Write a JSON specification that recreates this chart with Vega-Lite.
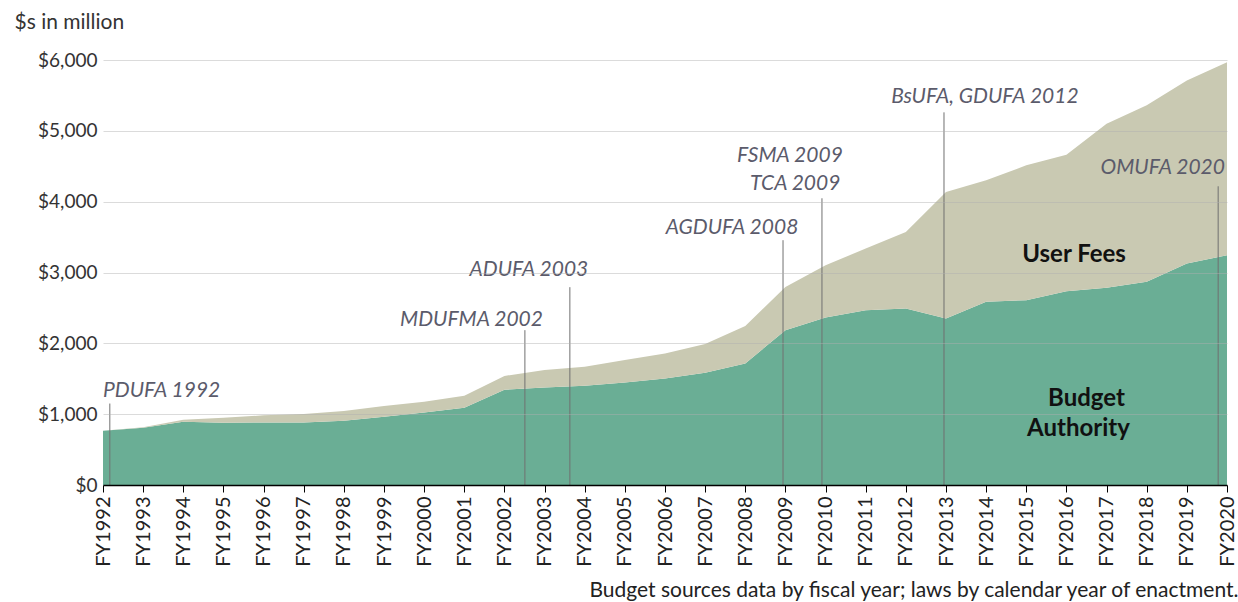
{
  "$schema": "https://vega.github.io/schema/vega-lite/v6.json",
  "width": 1124,
  "height": 425,
  "autosize": {"type": "none"},
  "padding": {"left": 103, "top": 60, "right": 11, "bottom": 117},
  "background": "white",
  "config": {
    "view": {"stroke": null},
    "font": "Lato",
    "axis": {"labelFont": "Lato", "titleFont": "Lato"}
  },
  "datasets": {
    "funding": [
      {"year": 1992, "series": "Budget Authority", "value": 766}, {"year": 1992, "series": "User Fees", "value": 0},
      {"year": 1993, "series": "Budget Authority", "value": 808}, {"year": 1993, "series": "User Fees", "value": 7},
      {"year": 1994, "series": "Budget Authority", "value": 893}, {"year": 1994, "series": "User Fees", "value": 28},
      {"year": 1995, "series": "Budget Authority", "value": 879}, {"year": 1995, "series": "User Fees", "value": 70},
      {"year": 1996, "series": "Budget Authority", "value": 884}, {"year": 1996, "series": "User Fees", "value": 99},
      {"year": 1997, "series": "Budget Authority", "value": 884}, {"year": 1997, "series": "User Fees", "value": 117},
      {"year": 1998, "series": "Budget Authority", "value": 907}, {"year": 1998, "series": "User Fees", "value": 137},
      {"year": 1999, "series": "Budget Authority", "value": 964}, {"year": 1999, "series": "User Fees", "value": 150},
      {"year": 2000, "series": "Budget Authority", "value": 1025}, {"year": 2000, "series": "User Fees", "value": 150},
      {"year": 2001, "series": "Budget Authority", "value": 1091}, {"year": 2001, "series": "User Fees", "value": 169},
      {"year": 2002, "series": "Budget Authority", "value": 1345}, {"year": 2002, "series": "User Fees", "value": 195},
      {"year": 2003, "series": "Budget Authority", "value": 1378}, {"year": 2003, "series": "User Fees", "value": 244},
      {"year": 2004, "series": "Budget Authority", "value": 1401}, {"year": 2004, "series": "User Fees", "value": 268},
      {"year": 2005, "series": "Budget Authority", "value": 1448}, {"year": 2005, "series": "User Fees", "value": 315},
      {"year": 2006, "series": "Budget Authority", "value": 1504}, {"year": 2006, "series": "User Fees", "value": 353},
      {"year": 2007, "series": "Budget Authority", "value": 1584}, {"year": 2007, "series": "User Fees", "value": 405},
      {"year": 2008, "series": "Budget Authority", "value": 1716}, {"year": 2008, "series": "User Fees", "value": 527},
      {"year": 2009, "series": "Budget Authority", "value": 2186}, {"year": 2009, "series": "User Fees", "value": 611},
      {"year": 2010, "series": "Budget Authority", "value": 2365}, {"year": 2010, "series": "User Fees", "value": 738},
      {"year": 2011, "series": "Budget Authority", "value": 2468}, {"year": 2011, "series": "User Fees", "value": 870},
      {"year": 2012, "series": "Budget Authority", "value": 2492}, {"year": 2012, "series": "User Fees", "value": 1081},
      {"year": 2013, "series": "Budget Authority", "value": 2351}, {"year": 2013, "series": "User Fees", "value": 1786},
      {"year": 2014, "series": "Budget Authority", "value": 2586}, {"year": 2014, "series": "User Fees", "value": 1716},
      {"year": 2015, "series": "Budget Authority", "value": 2609}, {"year": 2015, "series": "User Fees", "value": 1904},
      {"year": 2016, "series": "Budget Authority", "value": 2736}, {"year": 2016, "series": "User Fees", "value": 1928},
      {"year": 2017, "series": "Budget Authority", "value": 2783}, {"year": 2017, "series": "User Fees", "value": 2318},
      {"year": 2018, "series": "Budget Authority", "value": 2868}, {"year": 2018, "series": "User Fees", "value": 2492},
      {"year": 2019, "series": "Budget Authority", "value": 3127}, {"year": 2019, "series": "User Fees", "value": 2585},
      {"year": 2020, "series": "Budget Authority", "value": 3244}, {"year": 2020, "series": "User Fees", "value": 2726}
    ],
    "laws": [
      {"pos": 1992.17, "base": 0, "top": 1150},
      {"pos": 2002.51, "base": 0, "top": 2186},
      {"pos": 2003.63, "base": 0, "top": 2793},
      {"pos": 2008.94, "base": 0, "top": 3456},
      {"pos": 2009.91, "base": 0, "top": 4048},
      {"pos": 2012.95, "base": 0, "top": 5261},
      {"pos": 2019.78, "base": 0, "top": 4217}
    ],
    "lawLabels": [
      {"label": "PDUFA 1992", "lx": 1992.0, "ly": 1241, "al": "left"},
      {"label": "MDUFMA 2002", "lx": 2001.18, "ly": 2243, "al": "center"},
      {"label": "ADUFA 2003", "lx": 2002.61, "ly": 2948, "al": "center"},
      {"label": "AGDUFA 2008", "lx": 2007.67, "ly": 3540, "al": "center"},
      {"label": "FSMA 2009", "lx": 2010.43, "ly": 4556, "al": "right"},
      {"label": "TCA 2009", "lx": 2010.37, "ly": 4161, "al": "right"},
      {"label": "BsUFA, GDUFA 2012", "lx": 2013.97, "ly": 5388, "al": "center"},
      {"label": "OMUFA 2020", "lx": 2019.95, "ly": 4386, "al": "right"}
    ],
    "seriesLabels": [
      {"label": "User Fees", "lx": 2016.19, "ly": 3145},
      {"label": "Budget", "lx": 2016.5, "ly": 1114},
      {"label": "Authority", "lx": 2016.3, "ly": 691}
    ]
  },
  "layer": [
    {
      "data": {"name": "funding"},
      "mark": {"type": "area", "opacity": 1},
      "encoding": {
        "x": {
          "field": "year", "type": "quantitative",
          "scale": {"domain": [1992, 2020], "nice": false, "zero": false},
          "axis": {
            "values": [1992,1993,1994,1995,1996,1997,1998,1999,2000,2001,2002,2003,2004,2005,2006,2007,2008,2009,2010,2011,2012,2013,2014,2015,2016,2017,2018,2019,2020],
            "labelExpr": "'FY' + datum.value",
            "labelAngle": 270, "labelAlign": "right", "labelBaseline": "middle",
            "labelFontSize": 20, "labelColor": "#222", "labelPadding": 4,
            "tickSize": 7, "tickColor": "#000", "domainColor": "#000", "domainWidth": 1.5,
            "grid": false, "zindex": 1,
            "title": "Budget sources data by fiscal year; laws by calendar year of enactment.",
            "titleFontSize": 21, "titleFontWeight": "normal", "titleColor": "#222",
            "titleAlign": "right", "titleAnchor": "end", "titleX": 1135, "titleY": 111, "titleBaseline": "alphabetic"
          }
        },
        "y": {
          "field": "value", "type": "quantitative", "stack": "zero",
          "scale": {"domain": [0, 6000], "nice": false},
          "axis": {
            "values": [0, 1000, 2000, 3000, 4000, 5000, 6000],
            "format": "$,.0f",
            "labelFontSize": 19, "labelColor": "#333", "labelPadding": 6,
            "ticks": false, "domain": false,
            "grid": true, "gridColor": "#b0b0b0", "gridOpacity": 0.45, "gridWidth": 1,
            "zindex": 1,
            "title": "$s in million", "titleAngle": 0, "titleAlign": "left",
            "titleX": -89, "titleY": -32, "titleBaseline": "alphabetic",
            "titleFontSize": 21, "titleFontWeight": "normal", "titleColor": "#333"
          }
        },
        "color": {
          "field": "series", "type": "nominal",
          "scale": {"domain": ["Budget Authority", "User Fees"], "range": ["#6aae95", "#c9c9b2"]},
          "legend": null
        },
        "order": {"field": "series", "type": "nominal", "sort": "ascending"}
      }
    },
    {
      "data": {"name": "laws"},
      "mark": {"type": "rule", "color": "#707070", "strokeWidth": 1},
      "encoding": {
        "x": {"field": "pos", "type": "quantitative"},
        "y": {"field": "base", "type": "quantitative"},
        "y2": {"field": "top"}
      }
    },
    {
      "data": {"name": "lawLabels"},
      "transform": [{"filter": "datum.al === 'left'"}],
      "mark": {"type": "text", "fontStyle": "italic", "fontSize": 21, "color": "#5b5b6b", "baseline": "alphabetic", "align": "left"},
      "encoding": {
        "x": {"field": "lx", "type": "quantitative"},
        "y": {"field": "ly", "type": "quantitative"},
        "text": {"field": "label"}
      }
    },
    {
      "data": {"name": "lawLabels"},
      "transform": [{"filter": "datum.al === 'center'"}],
      "mark": {"type": "text", "fontStyle": "italic", "fontSize": 21, "color": "#5b5b6b", "baseline": "alphabetic", "align": "center"},
      "encoding": {
        "x": {"field": "lx", "type": "quantitative"},
        "y": {"field": "ly", "type": "quantitative"},
        "text": {"field": "label"}
      }
    },
    {
      "data": {"name": "lawLabels"},
      "transform": [{"filter": "datum.al === 'right'"}],
      "mark": {"type": "text", "fontStyle": "italic", "fontSize": 21, "color": "#5b5b6b", "baseline": "alphabetic", "align": "right"},
      "encoding": {
        "x": {"field": "lx", "type": "quantitative"},
        "y": {"field": "ly", "type": "quantitative"},
        "text": {"field": "label"}
      }
    },
    {
      "data": {"name": "seriesLabels"},
      "mark": {"type": "text", "fontWeight": "bold", "fontSize": 24, "color": "#111", "baseline": "alphabetic", "align": "center"},
      "encoding": {
        "x": {"field": "lx", "type": "quantitative"},
        "y": {"field": "ly", "type": "quantitative"},
        "text": {"field": "label"}
      }
    }
  ]
}
